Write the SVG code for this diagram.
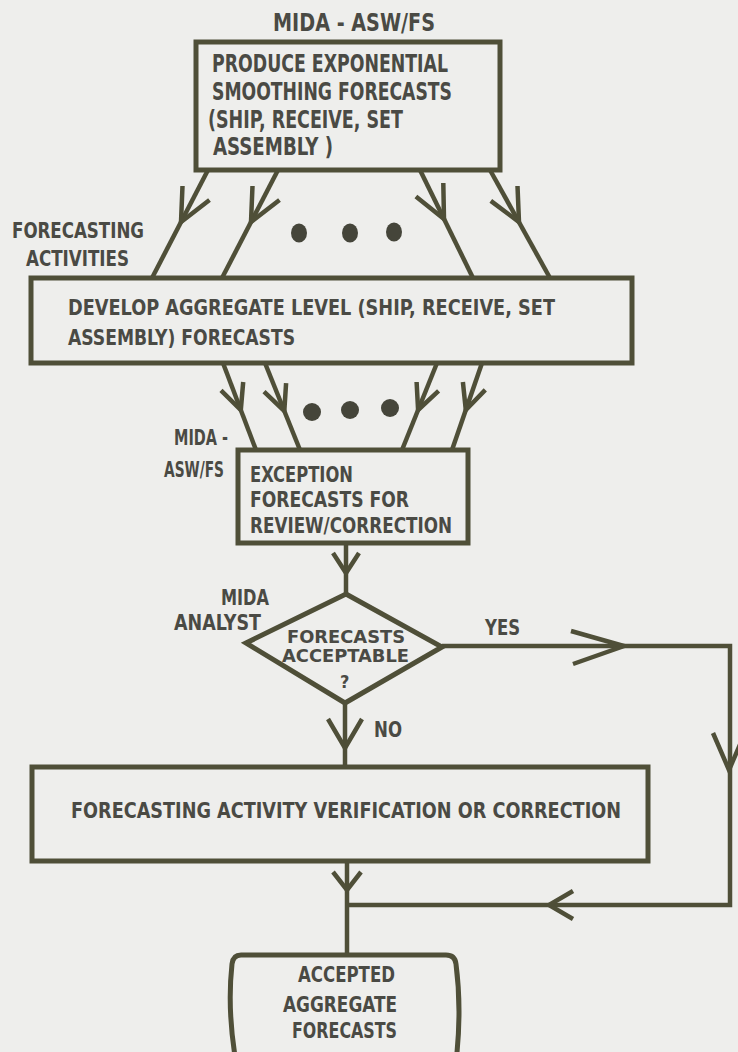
<svg xmlns="http://www.w3.org/2000/svg" width="738" height="1052" viewBox="0 0 738 1052">
  <style>
    .box { fill: none; stroke: #4f4f38; stroke-width: 5; stroke-linejoin: miter; }
    .wire { fill: none; stroke: #4f4f38; stroke-width: 4.5; stroke-linecap: butt; }
    .head { fill: none; stroke: #4f4f38; stroke-width: 4.5; stroke-linecap: butt; stroke-linejoin: miter; }
    .dot { fill: #45453a; }
    text { font-family: "Liberation Sans Narrow", "DejaVu Sans Condensed", "Liberation Sans", sans-serif; font-weight: bold; fill: #4a4a44; }
    .t24 { font-size: 24px; }
    .t22 { font-size: 22px; }
    .t18 { font-size: 18px; }
  </style>

  <rect x="0" y="0" width="738" height="1052" fill="#eeeeec"/>

  <!-- connectors -->
  <g id="connectors">
    <!-- top box to aggregate box -->
    <path class="wire" d="M208,170 L152,278"/>
    <path class="head" d="M209.5,200 L181,222 L182.5,186"/>
    <path class="wire" d="M278,170 L222,278"/>
    <path class="head" d="M279.5,200 L251,222 L252.5,186"/>
    <path class="wire" d="M420,170 L473,278"/>
    <path class="head" d="M443.3,183 L444,219 L415.9,196.4"/>
    <path class="wire" d="M490,170 L550,278"/>
    <path class="head" d="M517.5,186 L519,222 L490.8,200.9"/>
    <ellipse class="dot" cx="299" cy="233" rx="8" ry="9.5"/>
    <ellipse class="dot" cx="350" cy="233" rx="8" ry="9.5"/>
    <ellipse class="dot" cx="394" cy="232" rx="8" ry="9.5"/>

    <!-- aggregate box to exception box -->
    <path class="wire" d="M223,363 L256,450"/>
    <path class="head" d="M243.2,382 L240.8,410 L221,390.3"/>
    <path class="wire" d="M265,363 L300,450"/>
    <path class="head" d="M286.1,383.1 L284.3,411 L264,391.7"/>
    <path class="wire" d="M437,363 L402,450"/>
    <path class="head" d="M438.6,390.9 L418.1,410 L416.6,382"/>
    <path class="wire" d="M482,363 L452,450"/>
    <path class="head" d="M485.3,389.9 L465.8,410 L462.9,382.1"/>
    <circle class="dot" cx="312" cy="412" r="9"/>
    <circle class="dot" cx="350" cy="410" r="9"/>
    <circle class="dot" cx="390" cy="408" r="9"/>

    <!-- exception box to decision -->
    <path class="wire" d="M346,543 L346,594"/>
    <path class="head" d="M333,553 L346,573 L359,553"/>

    <!-- NO branch -->
    <path class="wire" d="M345,703 L345,767"/>
    <path class="head" d="M328,719 L345,748 L362,719"/>

    <!-- YES branch around the right side -->
    <path class="wire" d="M442,646 L730,646 L730,905 L347,905"/>
    <path class="head" d="M571,631 L624,646 L573,664"/>
    <path class="head" d="M713,733 L729,770 L745,733"/>
    <path class="head" d="M573,891 L549,905 L573,919"/>

    <!-- verification box to accepted forecasts -->
    <path class="wire" d="M347,861 L347,955"/>
    <path class="head" d="M333,872 L347,890 L361,872"/>
  </g>

  <!-- labels outside nodes -->
  <g id="labels">
    <text class="t24" x="273" y="31" textLength="162" lengthAdjust="spacingAndGlyphs">MIDA - ASW/FS</text>
    <text class="t22" x="12" y="238" textLength="132" lengthAdjust="spacingAndGlyphs">FORECASTING</text>
    <text class="t22" x="26" y="266" textLength="103" lengthAdjust="spacingAndGlyphs">ACTIVITIES</text>
    <text class="t22" x="174" y="445" textLength="54" lengthAdjust="spacingAndGlyphs">MIDA -</text>
    <text class="t22" x="164" y="477" textLength="60" lengthAdjust="spacingAndGlyphs">ASW/FS</text>
    <text class="t22" x="221" y="605" textLength="48" lengthAdjust="spacingAndGlyphs">MIDA</text>
    <text class="t22" x="174" y="630" textLength="87" lengthAdjust="spacingAndGlyphs">ANALYST</text>
    <text class="t22" x="485" y="635" textLength="35" lengthAdjust="spacingAndGlyphs">YES</text>
    <text class="t22" x="374" y="737" textLength="28" lengthAdjust="spacingAndGlyphs">NO</text>
  </g>

  <g id="node-smoothing">
    <rect class="box" x="196" y="42" width="304" height="128"/>
    <text class="t24" x="212" y="72" textLength="236" lengthAdjust="spacingAndGlyphs">PRODUCE EXPONENTIAL</text>
    <text class="t24" x="212" y="100" textLength="240" lengthAdjust="spacingAndGlyphs">SMOOTHING FORECASTS</text>
    <text class="t24" x="208" y="128" textLength="195" lengthAdjust="spacingAndGlyphs">(SHIP, RECEIVE, SET</text>
    <text class="t24" x="213" y="155" textLength="120" lengthAdjust="spacingAndGlyphs">ASSEMBLY )</text>
  </g>

  <g id="node-aggregate">
    <rect class="box" x="31" y="278" width="601" height="85"/>
    <text class="t22" x="68" y="315" textLength="487" lengthAdjust="spacingAndGlyphs">DEVELOP AGGREGATE LEVEL (SHIP, RECEIVE, SET</text>
    <text class="t22" x="68" y="345" textLength="227" lengthAdjust="spacingAndGlyphs">ASSEMBLY) FORECASTS</text>
  </g>

  <g id="node-exception">
    <rect class="box" x="238" y="450" width="230" height="93"/>
    <text class="t22" x="250" y="482" textLength="103" lengthAdjust="spacingAndGlyphs">EXCEPTION</text>
    <text class="t22" x="250" y="507" textLength="159" lengthAdjust="spacingAndGlyphs">FORECASTS FOR</text>
    <text class="t22" x="250" y="533" textLength="202" lengthAdjust="spacingAndGlyphs">REVIEW/CORRECTION</text>
  </g>

  <g id="node-decision">
    <polygon class="box" points="346,594 442,647 345,703 246,643"/>
    <text class="t18" x="287" y="643" textLength="118" lengthAdjust="spacingAndGlyphs">FORECASTS</text>
    <text class="t18" x="282" y="662" textLength="127" lengthAdjust="spacingAndGlyphs">ACCEPTABLE</text>
    <text class="t18" x="340" y="688" font-weight="normal">?</text>
  </g>

  <g id="node-verification">
    <rect class="box" x="32" y="767" width="616" height="94"/>
    <text class="t22" x="71" y="818" textLength="550" lengthAdjust="spacingAndGlyphs">FORECASTING ACTIVITY VERIFICATION OR CORRECTION</text>
  </g>

  <g id="node-accepted">
    <path class="box" d="M241,955 L446,955 Q455,955 456,964 Q462,1010 456,1062 L236,1062 Q227,1010 232,964 Q233,955 241,955 Z"/>
    <text class="t22" x="298" y="982" textLength="97" lengthAdjust="spacingAndGlyphs">ACCEPTED</text>
    <text class="t22" x="283" y="1012" textLength="114" lengthAdjust="spacingAndGlyphs">AGGREGATE</text>
    <text class="t22" x="292" y="1038" textLength="105" lengthAdjust="spacingAndGlyphs">FORECASTS</text>
  </g>
</svg>
